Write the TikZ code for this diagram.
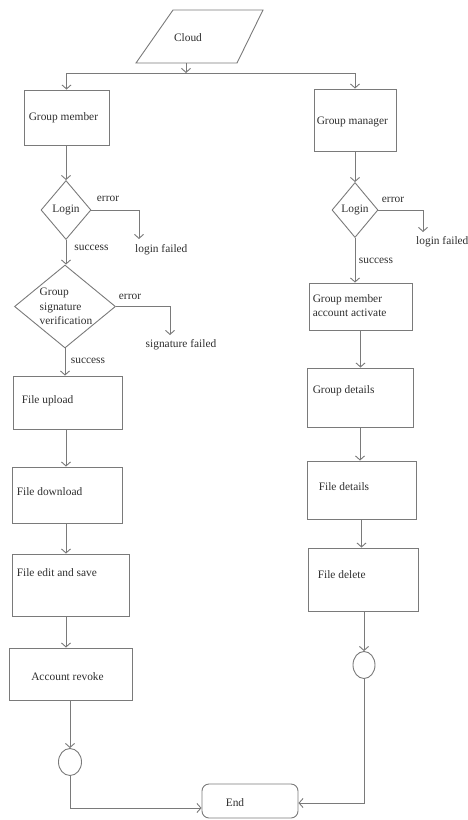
\documentclass[tikz,border=0pt]{standalone}
\usepackage{fontspec}
\setmainfont{Liberation Serif}
\usetikzlibrary{arrows.meta,shapes.geometric}
\definecolor{ln}{HTML}{7A7A7A}
\definecolor{tx}{HTML}{2E2E2E}
\begin{document}
\begin{tikzpicture}[x=1pt,y=-1pt,
  every node/.style={font=\fontsize{11.4}{14.5}\selectfont, text=tx},
  box/.style={draw=ln, line width=0.9pt, rectangle, inner sep=0pt},
  dia/.style={draw=ln, line width=0.9pt, diamond, inner sep=0pt},
  circ/.style={draw=ln, line width=0.9pt, ellipse, inner sep=0pt},
  conn/.style={draw=ln, line width=0.9pt, -{Straight Barb[length=4pt,width=9pt]}},
  plain/.style={draw=ln, line width=0.9pt},
  txt/.style={inner sep=0pt},
  lab/.style={inner sep=0pt, anchor=west}]
\useasboundingbox (0,0) rectangle (467,820);

% Cloud
\draw[plain] (136,63) -- (173,10) -- (263,10) -- (237,63) -- cycle;
\node[txt] (cloud) at (188,38) {Cloud};
\coordinate (cloudbot) at (186,63);
\coordinate (split) at (186,73);

% Left column
\node[box, minimum width=85pt, minimum height=55pt,
  label={[lab,xshift=5pt]west:Group member}] (gm) at (66.5,117.5) {};
\node[dia, minimum width=50pt, minimum height=59pt] (login) at (66,210) {Login};
\node[dia, minimum width=101pt, minimum height=83pt,
  label={[txt,align=left,xshift=1pt]center:Group\\signature\\verification}] (sig) at (65,306.5) {};
\node[box, minimum width=109pt, minimum height=53pt,
  label={[lab,xshift=9pt,yshift=1.5pt]west:File upload}] (up) at (67.5,402.5) {};
\node[box, minimum width=110pt, minimum height=56pt,
  label={[lab,xshift=5pt,yshift=3pt]west:File download}] (dn) at (67,495) {};
\node[box, minimum width=117pt, minimum height=62pt,
  label={[lab,xshift=5pt,yshift=12pt]west:File edit and save}] (ed) at (70.5,585) {};
\node[box, minimum width=123pt, minimum height=52pt,
  label={[txt,xshift=-3pt,yshift=-3pt]center:Account revoke}] (ar) at (70.5,674) {};
\node[circ, minimum width=23pt, minimum height=27pt] (c1) at (70,762) {};

% Right column
\node[box, minimum width=82pt, minimum height=62pt,
  label={[lab,xshift=3pt,yshift=-2pt]west:Group manager}] (gmg) at (355,120) {};
\node[dia, minimum width=46pt, minimum height=55pt] (rlogin) at (355,210) {Login};
\node[box, minimum width=103pt, minimum height=47pt,
  label={[lab,align=left,xshift=4pt,yshift=1pt]west:Group member\\account activate}] (act) at (360.5,306.5) {};
\node[box, minimum width=106pt, minimum height=59pt,
  label={[lab,xshift=6pt,yshift=6.5pt]west:Group details}] (gd) at (360,397.5) {};
\node[box, minimum width=109pt, minimum height=58pt,
  label={[lab,xshift=12pt,yshift=3pt]west:File details}] (fdt) at (361.5,490) {};
\node[box, minimum width=110pt, minimum height=63pt,
  label={[lab,xshift=10pt,yshift=4.5pt]west:File delete}] (fdl) at (363,579.5) {};
\node[circ, minimum width=22pt, minimum height=27pt] (c2) at (364,665) {};

% End
\node[draw=ln, line width=0.9pt, rounded corners=7pt, minimum width=96pt, minimum height=34pt,
  label={[txt,xshift=-15pt,yshift=-2pt]center:End}] (endn) at (250,801) {};

% Texts on branches
\node[txt] (e1) at (108,199) {error};
\node[lab] (lft1) at (135,250) {login failed};
\node[txt] (s1) at (91.5,248) {success};
\node[txt] (e2) at (130,297) {error};
\node[txt] (sft) at (181,345) {signature failed};
\node[txt] (s2) at (88,361) {success};
\node[txt] (e3) at (393,200) {error};
\node[lab] (lft2) at (416,242) {login failed};
\node[txt] (s3) at (376,261) {success};

\coordinate (lf1) at (139,239);
\coordinate (sf1) at (170,335);
\coordinate (lf2) at (423,232);

% Connectors
\draw[conn] (cloudbot) -- (split);
\draw[conn] (split) -| (gm.north);
\draw[conn] (split) -| (gmg.north);

\draw[conn] (gm.south -| login.north) -- (login.north);
\draw[conn] (login.south) -- (login.south |- sig.north);
\draw[conn] (sig.south) -- (sig.south |- up.north);
\draw[conn] (up.south -| login.south) -- (dn.north -| login.south);
\draw[conn] (dn.south -| login.south) -- (ed.north -| login.south);
\draw[conn] (ed.south -| login.south) -- (ar.north -| login.south);
\draw[conn] (ar.south -| c1.north) -- (c1.north);
\draw[conn] (c1.south) |- ([yshift=-7pt]endn.west);

\draw[conn] (gmg.south -| rlogin.north) -- (rlogin.north);
\draw[conn] (rlogin.south) -- (rlogin.south |- act.north);
\draw[conn] (act.south) -- (act.south |- gd.north);
\draw[conn] (gd.south) -- (gd.south |- fdt.north);
\draw[conn] (fdt.south) -- (fdt.south |- fdl.north);
\draw[conn] (fdl.south -| c2.north) -- (c2.north);
\draw[conn] (c2.south) |- ([yshift=-2pt]endn.east);

\draw[conn] (login.east) -| (lf1);
\draw[conn] (sig.east) -| (sf1);
\draw[conn] (rlogin.east) -| (lf2);
\end{tikzpicture}
\end{document}
